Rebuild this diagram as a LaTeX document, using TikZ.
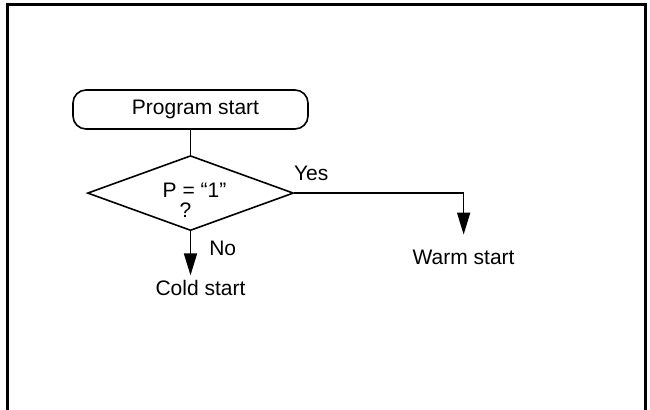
\documentclass[tikz,border=0pt]{standalone}
\usepackage{fontspec}
\setmainfont{Liberation Sans}
\usepackage{tikz}
\usetikzlibrary{shapes.geometric, arrows.meta, positioning, calc}
\tikzset{every node/.append style={align=center, inner sep=2pt}}

\begin{document}
\begin{tikzpicture}[
    x=0.5pt, y=-0.5pt,
    font=\fontsize{10.5}{10}\selectfont,
    term/.style={rectangle, rounded corners=6.5pt, draw, line width=0.8pt,
        minimum width=117.5pt, minimum height=19.5pt},
    decide/.style={diamond, aspect=2.75, draw, line width=0.8pt, inner sep=0pt,
        minimum width=103pt, minimum height=37.5pt},
    lbl/.style={inner sep=2pt},
    frame/.style={line width=1.5pt, line cap=rect},
    a/.style={-{Triangle[length=11pt, width=6.5pt]}, line width=0.8pt}
]
\useasboundingbox (0,0) rectangle (650,410);
% ===== FRAME =====
\draw[frame] (7.5,410) |- (646,5) -- (646,410);

% ===== FLOW =====
\node[term] (start) at (190.5,109.5) {\kern5pt Program start};
\node[decide, below=12.5pt of start] (dec) {};
\node[lbl, inner sep=0pt] (q) at ([yshift=-3.75pt]dec.center)
    {\kern4pt P = “1”\\?\kern5pt};
\node[lbl, below=22pt of dec, xshift=5pt] (cold) {Cold start};
\node[lbl, below right=26.25pt and 57pt of dec.east] (warm) {Warm start};

\draw[line width=0.8pt] (start) -- (dec);
\draw[a] (dec.south) -- node[lbl, pos=0.375, right=7pt] (no) {No}
    (dec.south |- cold.north);
\draw[a, shorten >=5.5pt] (dec.east) -| node[lbl, at start, anchor=south west,
    xshift=-2.5pt, yshift=3.75pt] (yes) {Yes} (warm.north);
\end{tikzpicture}
\end{document}
